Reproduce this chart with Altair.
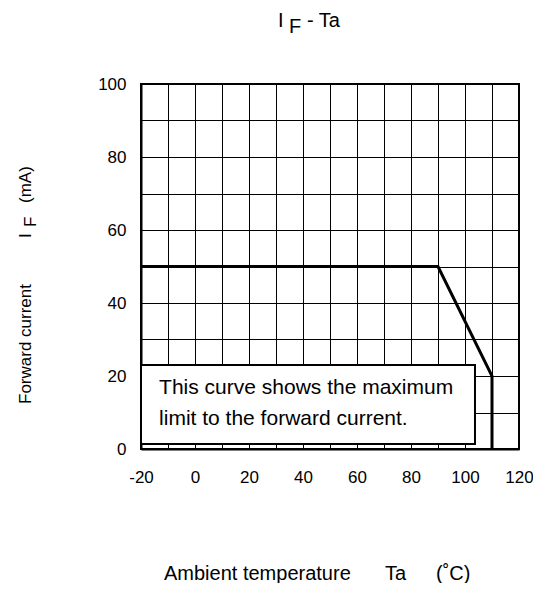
import altair as alt
import pandas as pd

# curve data
temps = [-20, 90, 110, 110]
currents = [50, 50, 20, 0]

x_ticks = list(range(-20, 121, 10))
y_ticks = list(range(0, 101, 10))

note_lines = ["This curve shows the maximum", "limit to the forward current."]
note_y = [15.1, 6.6]

FONT = "Liberation Sans"

curve_df = pd.DataFrame({"Ta": temps, "IF": currents, "idx": range(len(temps))})

xs = alt.Scale(domain=[-20, 120], nice=False, zero=False)
ys = alt.Scale(domain=[0, 100], nice=False)

LBL = "datum.value % 20 == 0 ? toString(datum.value) : ''"

x_axis = alt.Axis(values=x_ticks, grid=True, gridColor="black", gridWidth=1, gridOpacity=1,
                  labelExpr=LBL, tickSize=0, labelPadding=20, labelFontSize=17, labelFont=FONT,
                  labelColor="black", domainColor="black", domainWidth=2, title=None,
                  labelFlush=False, labelOverlap=False)
y_axis = alt.Axis(values=y_ticks, grid=True, gridColor="black", gridWidth=1, gridOpacity=1,
                  labelExpr=LBL, tickSize=0, labelPadding=15, labelFontSize=17, labelFont=FONT,
                  labelColor="black", domainColor="black", domainWidth=2, title=None,
                  labelFlush=False, labelOverlap=False)

line = alt.Chart(curve_df).mark_line(color="black", strokeWidth=3).encode(
    x=alt.X("Ta:Q", scale=xs, axis=x_axis),
    y=alt.Y("IF:Q", scale=ys, axis=y_axis),
    order=alt.Order("idx:Q"),
)

box = alt.Chart(pd.DataFrame({"a": [0]})).mark_rect(
    fill="white", stroke="black", strokeWidth=2
).encode(
    x=alt.XDatum(-20, scale=xs, axis=x_axis), x2=alt.X2Datum(103.7),
    y=alt.YDatum(1.4, scale=ys, axis=y_axis), y2=alt.Y2Datum(23),
)

note_df = pd.DataFrame({"t": note_lines, "yy": note_y})
note = alt.Chart(note_df).mark_text(
    align="left", baseline="alphabetic", fontSize=21, font=FONT, color="black"
).encode(
    x=alt.XDatum(-13.3, scale=xs, axis=x_axis),
    y=alt.Y("yy:Q", scale=ys, axis=y_axis),
    text="t:N",
)


def txt(s, x, y, size=19, angle=0, align="left"):
    return alt.Chart(pd.DataFrame({"a": [0]})).mark_text(
        text=s, align=align, baseline="alphabetic", fontSize=size, font=FONT,
        color="black", angle=angle
    ).encode(x=alt.value(x), y=alt.value(y))


# top title "I F - Ta" with subscript F
title = [
    txt("I", 137, -57, size=20),
    txt("F", 148, -51, size=20),
    txt("- Ta", 166, -57, size=20),
]

# y title rotated
ytitle = [
    txt("Forward current", -110, 320, size=17, angle=270),
    txt("I", -110, 154, size=17, angle=270),
    txt("F", -105, 143, size=17, angle=270),
    txt("(mA)", -110, 119, size=17, angle=270),
]

# x title
xtitle = [
    txt("Ambient temperature", 23, 496, size=20),
    txt("Ta", 244, 496, size=20),
    txt("(˚C)", 295, 496, size=20),
]

chart = alt.layer(line, box, note, *title, *ytitle, *xtitle).properties(
    width=378, height=365,
    autosize=alt.AutoSizeParams(type="none"),
    padding={"left": 133, "top": 76, "right": 14, "bottom": 134},
).configure_view(stroke="black", strokeWidth=2)

chart.save("out.html", embed_options={"renderer": "svg", "actions": False})
